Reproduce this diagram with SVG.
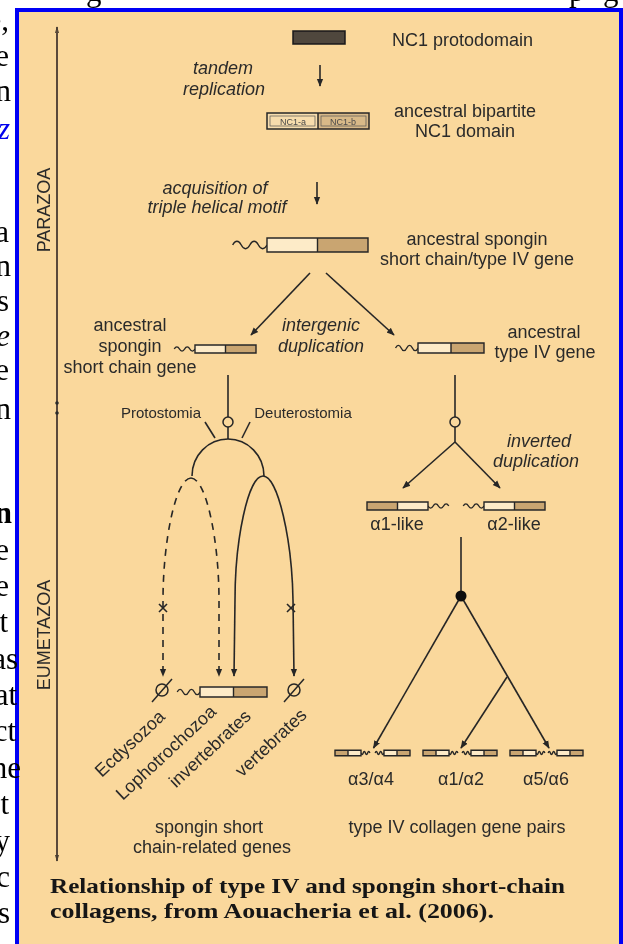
<svg xmlns="http://www.w3.org/2000/svg" width="623" height="944" viewBox="0 0 623 944">
<defs>
<style>
 .body{font-family:"Liberation Serif","Times New Roman",serif;font-size:31px;fill:#000;text-anchor:end}
 .lbl{font-family:"Liberation Sans",Arial,sans-serif;font-size:18px;fill:#2a2a2a}
 .it{font-style:italic}
 .mid{text-anchor:middle}
 .sm{font-size:15px}
 .tag{font-family:"Liberation Sans",Arial,sans-serif;font-size:9px;fill:#4a4a4a;text-anchor:middle}
 .cap{font-family:"Liberation Serif","Times New Roman",serif;font-weight:bold;font-size:22px;fill:#141414}
 .ln{fill:none;stroke:#262626;stroke-width:1.6}
 .dash{stroke-dasharray:7 6}
 .arr{marker-end:url(#ah)}
 .node{fill:#fad89c;stroke:#262626;stroke-width:1.5}
</style>
<filter id="soft" x="-2%" y="-2%" width="104%" height="104%">
 <feGaussianBlur stdDeviation="0.35"/>
</filter>
<marker id="ah" viewBox="0 0 10 10" refX="9" refY="5" markerUnits="userSpaceOnUse" markerWidth="8" markerHeight="8" orient="auto">
 <path d="M0,1 L10,5 L0,9 z" fill="#262626"/>
</marker>
<marker id="axh" viewBox="0 0 10 10" refX="9" refY="5" markerUnits="userSpaceOnUse" markerWidth="7" markerHeight="7" orient="auto">
 <path d="M0,2 L10,5 L0,8 z" fill="#4a3d30"/>
</marker>
<!-- gene: wavy helical part, then NC1 box with light and shaded halves -->
<g id="gene">
 <path d="M-34,0 c2.6,-5 5.9,-5 8.5,0 s5.9,5 8.5,0 s5.9,-5 8.5,0 s5.9,5 8.5,0" fill="none" stroke="#262626" stroke-width="1.4" vector-effect="non-scaling-stroke"/>
 <rect x="0" y="-7" width="50" height="14" fill="#fdebc8"/>
 <rect x="50" y="-7" width="50" height="14" fill="#c9a571"/>
 <path d="M0,-7 H100 V7 H0 Z M50,-7 V7" fill="none" stroke="#262626" stroke-width="1.4" vector-effect="non-scaling-stroke"/>
</g>
</defs>

<rect width="623" height="944" fill="#fff"/>

<!-- figure panel -->
<rect x="17" y="10" width="604" height="940" fill="#fad89c" stroke="#0000f5" stroke-width="4"/>

<g filter="url(#soft)">
<!-- time axis -->
<g id="axis">
 <line x1="57" y1="858" x2="57" y2="27" stroke="#5a4a3a" stroke-width="2" marker-end="url(#axh)"/>
 <line x1="57" y1="30" x2="57" y2="861" stroke="#5a4a3a" stroke-width="2" marker-end="url(#axh)"/>
 <circle cx="57" cy="403" r="1.8" fill="#2b2b2b"/>
 <circle cx="57" cy="413" r="1.8" fill="#2b2b2b"/>
 <text class="lbl mid" transform="translate(50,210) rotate(-90)">PARAZOA</text>
 <text class="lbl mid" transform="translate(50,635) rotate(-90)">EUMETAZOA</text>
</g>

<!-- connectors -->
<g id="connectors">
 <line class="ln arr" x1="320" y1="65" x2="320" y2="86"/>
 <line class="ln arr" x1="317" y1="182" x2="317" y2="204"/>
 <line class="ln arr" x1="310" y1="273" x2="251" y2="335"/>
 <line class="ln arr" x1="326" y1="273" x2="394" y2="335"/>
 <!-- spongin short chain lineage -->
 <line class="ln" x1="228" y1="375" x2="228" y2="417"/>
 <line class="ln" x1="228" y1="427" x2="228" y2="439"/>
 <path class="ln" d="M192,476 A36,37 0 0 1 264,476"/>
 <line class="ln" x1="205" y1="422" x2="215" y2="438"/>
 <line class="ln" x1="250" y1="422" x2="242" y2="438"/>
 <path class="ln dash arr" d="M191,478 C176,478 163,540 163,600 L163,676"/>
 <path class="ln dash arr" d="M191,478 C206,478 219,540 219,600 L219,676"/>
 <path class="ln arr" d="M263,476 C248,476 235,540 235,600 L234,676"/>
 <path class="ln arr" d="M263,476 C278,476 292,540 293,600 L294,676"/>
 <path class="ln" d="M159,604 L167,612 M167,604 L159,612"/>
 <path class="ln" d="M287,604 L295,612 M295,604 L287,612"/>
 <!-- type IV lineage -->
 <line class="ln" x1="455" y1="375" x2="455" y2="417"/>
 <line class="ln" x1="455" y1="427" x2="455" y2="442"/>
 <line class="ln arr" x1="455" y1="442" x2="403" y2="488"/>
 <line class="ln arr" x1="455" y1="442" x2="500" y2="488"/>
 <line class="ln" x1="461" y1="537" x2="461" y2="592"/>
 <line class="ln arr" x1="461" y1="596" x2="373.5" y2="748"/>
 <line class="ln arr" x1="461" y1="596" x2="549" y2="748"/>
 <line class="ln arr" x1="507" y1="677" x2="461" y2="748"/>
</g>

<!-- nodes -->
<g id="protodomain">
 <rect x="293" y="31" width="52" height="13" fill="#4f463e" stroke="#1a1a1a" stroke-width="1.5"/>
 <text class="lbl" x="392" y="46">NC1 protodomain</text>
</g>
<g id="tandem-replication">
 <text class="lbl it mid" x="223" y="74">tandem</text>
 <text class="lbl it mid" x="224" y="95">replication</text>
</g>
<g id="bipartite">
 <rect x="267" y="113" width="51" height="16" fill="#f7ddad"/>
 <rect x="318" y="113" width="51" height="16" fill="#d8b988"/>
 <rect x="267" y="113" width="102" height="16" fill="none" stroke="#262626" stroke-width="1.5"/>
 <rect x="270" y="116" width="45" height="10" fill="none" stroke="#555" stroke-width="0.7"/>
 <rect x="321" y="116" width="45" height="10" fill="none" stroke="#555" stroke-width="0.7"/>
 <line x1="318" y1="113" x2="318" y2="129" stroke="#262626" stroke-width="1.5"/>
 <text class="tag" x="293" y="124.5">NC1-a</text>
 <text class="tag" x="343" y="124.5">NC1-b</text>
 <text class="lbl mid" x="465" y="117">ancestral bipartite</text>
 <text class="lbl mid" x="465" y="137">NC1 domain</text>
</g>
<g id="triple-helix">
 <text class="lbl it mid" x="215" y="194">acquisition of</text>
 <text class="lbl it mid" x="217" y="213">triple helical motif</text>
</g>
<g id="ancestral-gene">
 <use href="#gene" transform="translate(267,245) scale(1.01,1)"/>
 <text class="lbl mid" x="477" y="245">ancestral spongin</text>
 <text class="lbl mid" x="477" y="265">short chain/type IV gene</text>
</g>
<g id="intergenic">
 <text class="lbl it mid" x="321" y="331">intergenic</text>
 <text class="lbl it mid" x="321" y="352">duplication</text>
</g>
<g id="spongin-gene">
 <use href="#gene" transform="translate(195,349) scale(0.61,0.57)"/>
 <text class="lbl mid" x="130" y="331">ancestral</text>
 <text class="lbl mid" x="130" y="352">spongin</text>
 <text class="lbl mid" x="130" y="373">short chain gene</text>
</g>
<g id="typeIV-gene">
 <use href="#gene" transform="translate(418,348) scale(0.66,0.71)"/>
 <text class="lbl mid" x="544" y="338">ancestral</text>
 <text class="lbl mid" x="545" y="358">type IV gene</text>
</g>
<g id="split-spongin">
 <circle class="node" cx="228" cy="422" r="5"/>
 <text class="lbl sm mid" x="161" y="418">Protostomia</text>
 <text class="lbl sm mid" x="303" y="418">Deuterostomia</text>
</g>
<g id="split-typeIV">
 <circle class="node" cx="455" cy="422" r="5"/>
 <text class="lbl it mid" x="539" y="447">inverted</text>
 <text class="lbl it mid" x="536" y="467">duplication</text>
</g>
<g id="alpha-genes">
 <use href="#gene" transform="translate(428,506) scale(-0.61,0.57)"/>
 <use href="#gene" transform="translate(484,506) scale(0.61,0.57)"/>
 <text class="lbl mid" x="397" y="530">α1-like</text>
 <text class="lbl mid" x="514" y="530">α2-like</text>
</g>
<g id="alpha-split">
 <circle cx="461" cy="596" r="5.5" fill="#111"/>
</g>
<g id="ecdysozoa">
 <circle cx="162" cy="690" r="6" fill="none" stroke="#262626" stroke-width="1.5"/>
 <line x1="152" y1="702" x2="172" y2="679" stroke="#262626" stroke-width="1.5"/>
 <text class="lbl mid" transform="translate(134,748) rotate(-43)">Ecdysozoa</text>
</g>
<g id="invertebrate-gene">
 <use href="#gene" transform="translate(200,692) scale(0.67,0.71)"/>
 <text class="lbl mid" transform="translate(170,757) rotate(-43)">Lophotrochozoa</text>
 <text class="lbl mid" transform="translate(214,753) rotate(-43)">invertebrates</text>
</g>
<g id="vertebrates">
 <circle cx="294" cy="690" r="6" fill="none" stroke="#262626" stroke-width="1.5"/>
 <line x1="284" y1="702" x2="304" y2="679" stroke="#262626" stroke-width="1.5"/>
 <text class="lbl mid" transform="translate(275,747) rotate(-43)">vertebrates</text>
</g>
<g id="pair-a3a4">
 <use href="#gene" transform="translate(361,753) scale(-0.26,0.4)"/>
 <use href="#gene" transform="translate(384,753) scale(0.26,0.4)"/>
 <text class="lbl mid" x="371" y="785">α3/α4</text>
</g>
<g id="pair-a1a2">
 <use href="#gene" transform="translate(449,753) scale(-0.26,0.4)"/>
 <use href="#gene" transform="translate(471,753) scale(0.26,0.4)"/>
 <text class="lbl mid" x="461" y="785">α1/α2</text>
</g>
<g id="pair-a5a6">
 <use href="#gene" transform="translate(536,753) scale(-0.26,0.4)"/>
 <use href="#gene" transform="translate(557,753) scale(0.26,0.4)"/>
 <text class="lbl mid" x="546" y="785">α5/α6</text>
</g>
<g id="group-labels">
 <text class="lbl mid" x="209" y="833">spongin short</text>
 <text class="lbl mid" x="212" y="853">chain-related genes</text>
 <text class="lbl mid" x="457" y="833">type IV collagen gene pairs</text>
</g>

<!-- caption -->
<g id="caption">
 <text class="cap" x="50" y="893" textLength="515" lengthAdjust="spacingAndGlyphs">Relationship of type IV and spongin short-chain</text>
 <text class="cap" x="50" y="918" textLength="444" lengthAdjust="spacingAndGlyphs">collagens, from Aouacheria et al. (2006).</text>
</g>
</g>

<!-- surrounding page text, cut at the left edge -->
<g id="page-text">
 <text class="body" style="text-anchor:start" x="86" y="0.5">g</text>
 <text class="body" style="text-anchor:start" x="569" y="0.5">p</text>
 <text class="body" style="text-anchor:start" x="603" y="0.5">g</text>
 <text class="body" x="9" y="30">e,</text>
 <text class="body" x="9" y="66">e</text>
 <text class="body" x="11" y="101">n</text>
 <text class="body it" x="10" y="139" style="fill:#0000ee">z</text>
 <text class="body" x="9" y="242">a</text>
 <text class="body" x="11" y="276">n</text>
 <text class="body" x="9" y="311">s</text>
 <text class="body it" x="10" y="346">e</text>
 <text class="body" x="9" y="380">e</text>
 <text class="body" x="11" y="419">n</text>
 <text class="body" x="12" y="523" style="font-weight:bold">n</text>
 <text class="body" x="9" y="560">e</text>
 <text class="body" x="9" y="596">e</text>
 <text class="body" x="8" y="632">t</text>
 <text class="body" x="18" y="669">as</text>
 <text class="body" x="17" y="705">at</text>
 <text class="body" x="16" y="741">ct</text>
 <text class="body" x="21" y="778">ne</text>
 <text class="body" x="9" y="814">t</text>
 <text class="body" x="10" y="851">y</text>
 <text class="body" x="10" y="887">c</text>
 <text class="body" x="10" y="923">s</text>
</g>
</svg>
